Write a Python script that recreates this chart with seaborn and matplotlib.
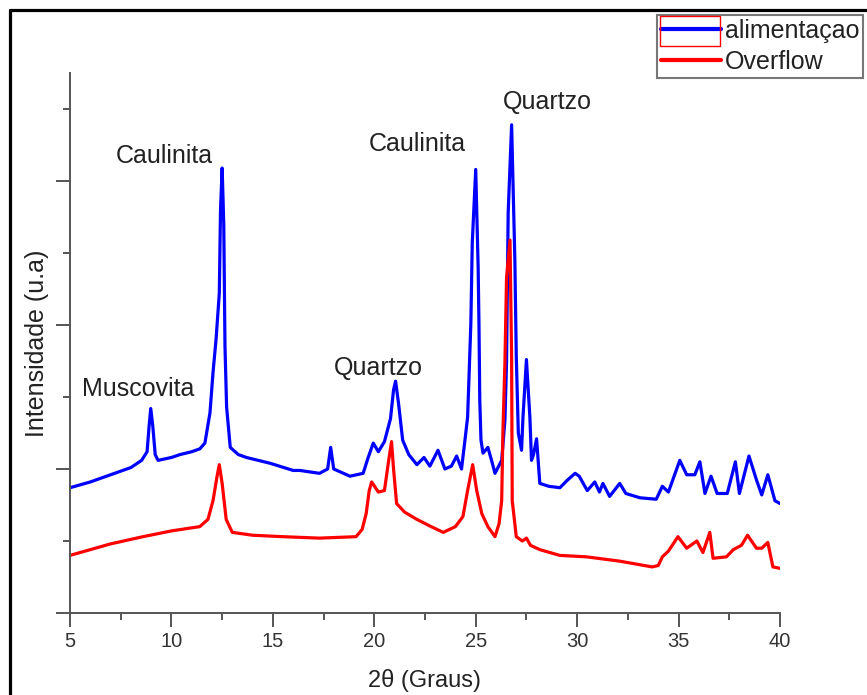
import pandas as pd
import matplotlib
matplotlib.use("Agg")
import matplotlib.pyplot as plt
from matplotlib import font_manager
from matplotlib.lines import Line2D
from matplotlib.patches import Rectangle
import seaborn as sns

# --- data (2theta in degrees, intensity in a.u.) ---
alim_x = [5.0, 6.0, 7.0, 8.0, 8.53, 8.8, 8.9, 8.98, 9.08, 9.2, 9.34, 10.0, 10.42, 11.0,
          11.4, 11.65, 11.9, 12.05, 12.2, 12.36, 12.42, 12.5, 12.58, 12.64, 12.72, 12.9,
          13.3, 13.7, 14.86, 16.0, 16.33, 17.3, 17.7, 17.85, 18.0, 18.8, 19.45, 19.7,
          19.95, 20.2, 20.5, 20.8, 20.95, 21.05, 21.2, 21.4, 21.7, 22.1, 22.45, 22.74,
          23.14, 23.48, 23.8, 24.06, 24.3, 24.47, 24.6, 24.67, 24.76, 24.83, 25.0, 25.12,
          25.16, 25.2, 25.26, 25.36, 25.6, 25.8, 25.95, 26.28, 26.44, 26.52, 26.6, 26.77,
          26.93, 27.0, 27.1, 27.26, 27.33, 27.5, 27.67, 27.75, 27.85, 28.0, 28.16, 28.6,
          29.15, 29.5, 29.9, 30.1, 30.5, 30.87, 31.1, 31.27, 31.6, 32.1, 32.4, 33.1, 33.9,
          34.2, 34.5, 35.06, 35.4, 35.8, 36.05, 36.3, 36.6, 36.9, 37.4, 37.8, 38.0, 38.47,
          38.85, 39.1, 39.4, 39.75, 40.0]
alim_y = [0.87, 0.91, 0.96, 1.01, 1.06, 1.12, 1.30, 1.42, 1.30, 1.10, 1.06, 1.08, 1.10, 1.12,
          1.14, 1.18, 1.39, 1.67, 1.90, 2.22, 2.80, 3.09, 2.70, 1.85, 1.43, 1.15,
          1.10, 1.08, 1.04, 0.99, 0.99, 0.97, 1.00, 1.15, 1.00, 0.95, 0.97, 1.08,
          1.18, 1.12, 1.19, 1.35, 1.55, 1.61, 1.45, 1.20, 1.10, 1.03, 1.08, 1.02,
          1.13, 1.00, 1.02, 1.09, 1.00, 1.20, 1.36, 1.64, 2.01, 2.57, 3.08, 2.40,
          2.01, 1.48, 1.20, 1.11, 1.15, 1.05, 0.97, 1.06, 1.34, 1.74, 2.78, 3.39,
          2.45, 1.78, 1.25, 1.13, 1.36, 1.76, 1.36, 1.06, 1.10, 1.21, 0.90, 0.88,
          0.87, 0.92, 0.97, 0.95, 0.85, 0.91, 0.84, 0.90, 0.81, 0.90, 0.83, 0.80, 0.79,
          0.88, 0.84, 1.06, 0.96, 0.96, 1.05, 0.83, 0.95, 0.83, 0.83, 1.05, 0.83, 1.09,
          0.92, 0.82, 0.96, 0.78, 0.76]

over_x = [5.0, 6.0, 7.0, 8.6, 10.0, 11.4, 11.8, 12.05, 12.25, 12.36, 12.5, 12.7, 13.0, 14.0,
          15.5, 17.3, 19.1, 19.4, 19.6, 19.75, 19.87, 20.2, 20.5, 20.7, 20.85, 20.95, 21.1,
          21.5, 22.1, 22.8, 23.4, 24.0, 24.37, 24.6, 24.85, 25.05, 25.3, 25.6, 25.95, 26.15,
          26.28, 26.34, 26.44, 26.52, 26.69, 26.77, 26.8, 27.0, 27.3, 27.5, 27.7, 28.16,
          29.15, 30.46, 32.1, 33.7, 34.0, 34.2, 34.5, 34.97, 35.4, 35.9, 36.2, 36.54, 36.7,
          37.36, 37.7, 38.1, 38.4, 38.84, 39.1, 39.4, 39.65, 40.0]
over_y = [0.40, 0.44, 0.48, 0.53, 0.57, 0.60, 0.65, 0.78, 0.95, 1.03, 0.90, 0.65, 0.56, 0.54,
          0.53, 0.52, 0.53, 0.58, 0.69, 0.85, 0.91, 0.84, 0.85, 1.05, 1.19, 1.00, 0.76,
          0.70, 0.65, 0.60, 0.56, 0.60, 0.67, 0.85, 1.03, 0.85, 0.69, 0.60, 0.53, 0.62,
          0.78, 1.25, 1.74, 2.33, 2.59, 1.76, 0.78, 0.53, 0.50, 0.52, 0.47, 0.44,
          0.40, 0.39, 0.36, 0.32, 0.33, 0.39, 0.43, 0.53, 0.45, 0.50, 0.42, 0.56, 0.38,
          0.39, 0.44, 0.47, 0.54, 0.45, 0.45, 0.49, 0.32, 0.31]

peak_labels = ["Caulinita", "Muscovita", "Quartzo", "Caulinita", "Quartzo"]
peak_x = [9.63, 8.38, 20.2, 22.1, 28.53]
peak_y = [3.125, 1.51, 1.65, 3.21, 3.50]

df = pd.concat([
    pd.DataFrame({"theta": alim_x, "intens": alim_y, "amostra": "alimentaçao"}),
    pd.DataFrame({"theta": over_x, "intens": over_y, "amostra": "Overflow"}),
])

sns.set_style("white")
plt.rcParams["font.family"] = ["Liberation Sans", "DejaVu Sans"]

installed = {f.name for f in font_manager.fontManager.ttflist}
narrow = "Liberation Sans Narrow" if "Liberation Sans Narrow" in installed else "Liberation Sans"
tick_size = 16 if narrow != "Liberation Sans" else 14.5

fig = plt.figure(figsize=(8.67, 6.95), dpi=100)
ax = fig.add_axes([70 / 867, 1 - 613 / 695, 710 / 867, 540 / 695])

sns.lineplot(data=df, x="theta", y="intens", hue="amostra", sort=False,
             palette={"alimentaçao": "#0000ff", "Overflow": "#ff0000"},
             linewidth=2.3, ax=ax, estimator=None)

ax.set_xlim(5, 40)
ax.set_ylim(0, 3.75)
ax.set_xticks(range(5, 41, 5))
ax.set_xticks([x + 2.5 for x in range(5, 40, 5)], minor=True)
ax.set_yticks([0, 1, 2, 3])
ax.set_yticks([0.5, 1.5, 2.5, 3.5], minor=True)
ax.set_yticklabels([])

sns.despine(ax=ax)
for s in ["left", "bottom"]:
    ax.spines[s].set_color("#555555")
    ax.spines[s].set_linewidth(1.4)
ax.tick_params(which="major", direction="out", length=10, width=1.4, color="#555555", pad=4)
ax.tick_params(which="minor", direction="out", length=5, width=1.4, color="#555555")
ax.tick_params(axis="both", which="both", left=True, bottom=True)
ax.tick_params(axis="x", which="major", labelsize=tick_size, labelcolor="#333333",
               labelfontfamily=narrow)

ax.set_xlabel("2θ (Graus)", fontsize=17, color="#222222", labelpad=13, family=[narrow, "DejaVu Sans"])
ax.set_ylabel("Intensidade (u.a)", fontsize=18, color="#222222", labelpad=1)

for lab, px, py in zip(peak_labels, peak_x, peak_y):
    ax.text(px, py, lab, ha="center", va="baseline", fontsize=18, color="#222222")

# legend in the top right corner, as in the original
handles, labels = ax.get_legend_handles_labels()
ax.get_legend().remove()
leg = fig.legend(handles, labels, loc="upper left", bbox_to_anchor=(657 / 867, 1 - 15 / 695),
                 fontsize=18, frameon=True, fancybox=False, handlelength=2.4,
                 handletextpad=0.15, labelspacing=0.28, borderpad=0.15, borderaxespad=0)
leg.get_frame().set_edgecolor("#555555")
leg.get_frame().set_linewidth(1.5)
for t in leg.get_texts():
    t.set_color("#222222")
for h in leg.legend_handles:
    h.set_linewidth(3)

fig.patches.append(Rectangle((660 / 867, 1 - 46 / 695), 60 / 867, 30 / 695, fill=False,
                             edgecolor="#ff0000", linewidth=1, transform=fig.transFigure,
                             figure=fig, zorder=10))

# outer frame of the original figure
fig.lines.append(Line2D([10 / 867, 10 / 867], [0, 1 - 10 / 695], color="black", linewidth=2.3,
                        transform=fig.transFigure, figure=fig))
fig.lines.append(Line2D([10 / 867, 1.0], [1 - 10 / 695, 1 - 10 / 695], color="black",
                        linewidth=2.3, transform=fig.transFigure, figure=fig))

fig.savefig("out.png", dpi=100)
